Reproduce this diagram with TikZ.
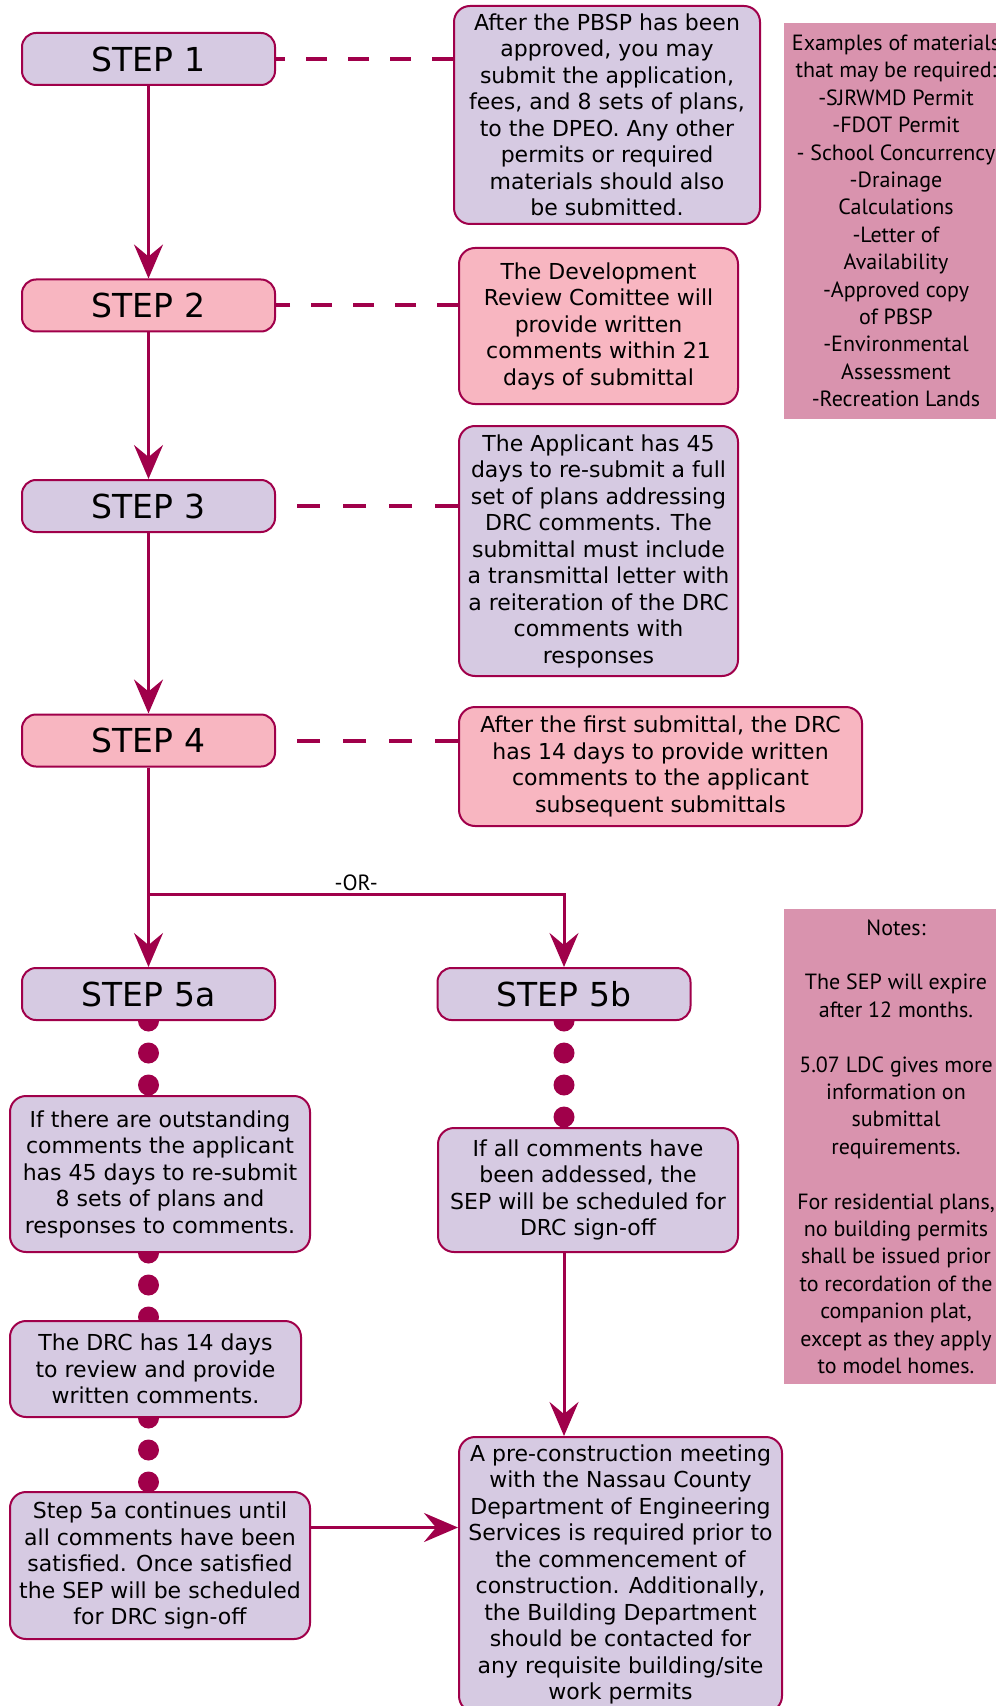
\documentclass[tikz,border=0pt]{standalone}
\usepackage{fontspec}
\setmainfont{DejaVu Sans}
\newfontfamily\notefont{PT Sans}
\usetikzlibrary{arrows.meta}
\usetikzlibrary{backgrounds}
\definecolor{lavbox}{HTML}{D6CAE2}
\definecolor{pinkbox}{HTML}{F8B6C1}
\definecolor{crimson}{HTML}{A0004A}
\definecolor{mauve}{HTML}{D993AE}
\begin{document}
\begin{tikzpicture}[x=0.5pt,y=-0.5pt,
  stepbox/.style={draw=crimson,line width=1pt,rounded corners=7pt,minimum width=126.5pt,minimum height=26pt,inner sep=0pt,font=\fontsize{16.5}{20}\selectfont},
  infobox/.style={draw=crimson,line width=1pt,rounded corners=8pt,inner sep=0pt,align=center,font=\fontsize{11}{13.25}\selectfont},
  notebox/.style={fill=mauve,inner sep=0pt,align=center,minimum width=112pt,font=\notefont\fontsize{11}{13.7}\selectfont},
  flow/.style={crimson,line width=1.5pt,-{Stealth[length=17pt,width=14.5pt,inset=6pt]}},
  dashline/.style={crimson,line width=2pt,dash pattern=on 10.5pt off 10.5pt},
  dashwide/.style={crimson,line width=2pt,dash pattern=on 11.5pt off 11.5pt},
  dotline/.style={crimson,line width=10.5pt,line cap=round,dash pattern=on 0pt off 16pt}]
\useasboundingbox (0,0) rectangle (995,1706);

% steps
\node[stepbox,fill=lavbox] (s1) at (148.5,59) {STEP 1};
\node[stepbox,fill=pinkbox] (s2) at (148.5,305.5) {STEP 2};
\node[stepbox,fill=lavbox] (s3) at (148.5,506) {STEP 3};
\node[stepbox,fill=pinkbox] (s4) at (148.5,740.5) {STEP 4};
\node[stepbox,fill=lavbox] (s5a) at (148.5,994) {STEP 5a};
\node[stepbox,fill=lavbox] (s5b) at (564,994) {STEP 5b};

% descriptions
\node[infobox,fill=lavbox,minimum width=153pt,minimum height=109pt] (d1) at (607,115) {After the PBSP has been\\approved, you may\\submit the application,\\fees, and 8 sets of plans,\\to the DPEO. Any other\\permits or required\\materials should also\\be submitted.};
\node[infobox,fill=pinkbox,minimum width=139.5pt,minimum height=78pt] (d2) at (598.5,326) {The Development\\Review Comittee will\\provide written\\comments within 21\\days of submittal};
\node[infobox,fill=lavbox,minimum width=139.5pt,minimum height=125pt] (d3) at (598.5,551) {The Applicant has 45\\days to re-submit a full\\set of plans addressing\\DRC comments. The\\submittal must include\\a transmittal letter with\\a reiteration of the DRC\\comments with\\responses};
\node[infobox,fill=pinkbox,minimum width=201.5pt,minimum height=59.5pt] (d4) at (660.5,766.5) {After the first submittal, the DRC\\has 14 days to provide written\\comments to the applicant\\subsequent submittals};

\node[infobox,fill=lavbox,minimum width=150pt,minimum height=78pt] (a1) at (160,1174) {If there are outstanding\\comments the applicant\\has 45 days to re-submit\\8 sets of plans and\\responses to comments.};
\node[infobox,fill=lavbox,minimum width=145.5pt,minimum height=48pt] (a2) at (155.5,1369) {The DRC has 14 days\\to review and provide\\written comments.};
\node[infobox,fill=lavbox,minimum width=150pt,minimum height=73.5pt] (a3) at (160,1565.5) {Step 5a continues until\\all comments have been\\satisfied. Once satisfied\\the SEP will be scheduled\\for DRC sign-off};
\node[infobox,fill=lavbox,minimum width=150pt,minimum height=62pt] (b1) at (588,1190) {If all comments have\\been addessed, the\\SEP will be scheduled for\\DRC sign-off};
\node[infobox,fill=lavbox,minimum width=161.5pt,minimum height=137.5pt] (fin) at (620.5,1574.5) {A pre-construction meeting\\with the Nassau County\\Department of Engineering\\Services is required prior to\\the commencement of\\construction. Additionally,\\the Building Department\\should be contacted for\\any requisite building/site\\work permits};

% side notes
\node[notebox,minimum height=198pt] (ex) at (896,221) {Examples of materials\\that may be required:\\-SJRWMD Permit\\-FDOT Permit\\- School Concurrency\\-Drainage\\Calculations\\-Letter of\\Availability\\-Approved copy\\of PBSP\\-Environmental\\Assessment\\-Recreation Lands};
\node[notebox,minimum height=237.5pt] (notes) at (896,1146.5) {Notes:\\[13.7pt]The SEP will expire\\after 12 months.\\[13.7pt]5.07 LDC gives more\\information on\\submittal\\requirements.\\[13.7pt]For residential plans,\\no building permits\\shall be issued prior\\to recordation of the\\companion plat,\\except as they apply\\to model homes.};

% main flow
\draw[flow] (s1) -- (s2);
\draw[flow] (s2) -- (s3);
\draw[flow] (s3) -- (s4);
\draw[flow] (s4) -- (s5a);
\coordinate (fork) at (148.5,894);
\draw[flow] (fork) -| (s5b.north) node[pos=0.25,above,text=black,font=\notefont\fontsize{11}{13}\selectfont,inner sep=1pt] (or) {-OR-};
\draw[flow] (s5b |- b1.south) -- (s5b |- fin.north);
\draw[flow] ([yshift=19pt]a3.east) -- ([yshift=19pt]a3.east -| fin.west);

% dashed links
\draw[dashline] (d1.west |- s1) -- (s1.east);
\draw[dashline] (d2.west |- s2) -- (s2.east);
\draw[dashwide] (d3.west |- s3) -- (s3.east);
\draw[dashwide] (d4.west |- s4) -- (s4.east);

% dots
\begin{scope}[on background layer]
\draw[dotline] (s5a.south) -- (s5a |- a1.north);
\draw[dotline] (s5a |- a1.south) -- (s5a |- a2.north);
\draw[dotline] (s5a |- a2.south) -- (s5a |- a3.north);
\draw[dotline] (s5b.south) -- (s5b |- b1.north);
\end{scope}

\end{tikzpicture}
\end{document}
